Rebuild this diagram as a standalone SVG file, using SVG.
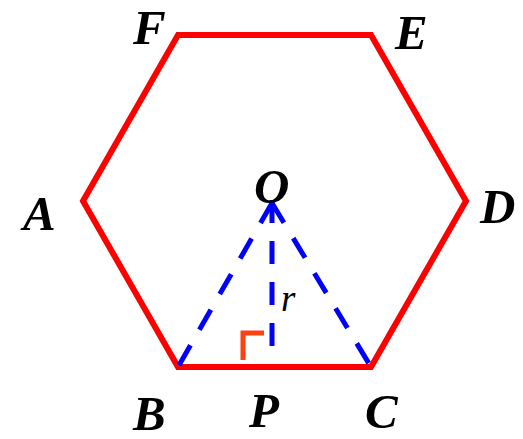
<svg xmlns="http://www.w3.org/2000/svg" width="523" height="439" viewBox="0 0 523 439">
<style>
text{font-family:'Liberation Serif','Times New Roman',serif;font-style:italic;fill:#000}
.lbl{font-weight:bold;font-size:49px}
.r{font-size:37px}
.dash{stroke:#0000ff;stroke-width:5;stroke-dasharray:23 18;fill:none}
</style>
<rect width="523" height="439" fill="#fff"/>
<g id="hexagon">
<polygon points="178,35 371,35 466,201 371,367 178,367 83,201" fill="none" stroke="#ff0000" stroke-width="6" stroke-linejoin="miter"/>
</g>
<g id="connectors">
<line class="dash" x1="272" y1="203" x2="178" y2="367"/>
<line class="dash" x1="272" y1="203" x2="371" y2="367"/>
<line class="dash" x1="272" y1="200" x2="272" y2="350" stroke-dasharray="23 19"/>
<polyline points="243,360 243,333 264,333" fill="none" stroke="#ff4010" stroke-width="5"/>
</g>
<g id="labels">
<text class="lbl" x="133" y="44">F</text>
<text class="lbl" x="395" y="49">E</text>
<text class="lbl" x="480" y="223">D</text>
<text class="lbl" x="23" y="230">A</text>
<text class="lbl" x="254" y="203">O</text>
<text class="lbl" x="133" y="430">B</text>
<text class="lbl" x="249" y="427">P</text>
<text class="lbl" x="365" y="428">C</text>
<text class="r" x="281" y="311">r</text>
</g>
</svg>
